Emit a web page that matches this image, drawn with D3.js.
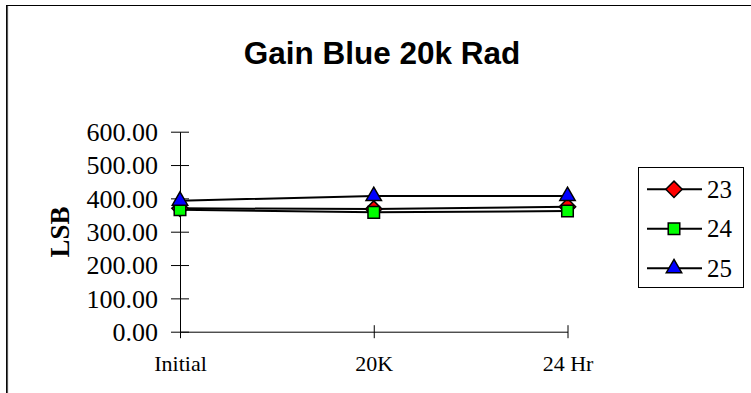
<!DOCTYPE html>
<html><head><meta charset="utf-8">
<script src="https://cdn.jsdelivr.net/npm/d3@7"></script>
<style>html,body{margin:0;padding:0;background:#fff;overflow:hidden}
.serif{font-family:'Liberation Serif','Times New Roman',serif !important;}
.sans{font-family:'Liberation Sans',Arial,sans-serif !important;}
</style>
</head><body>
<svg id="c" width="751" height="393"></svg>
<script>
const categories = ["Initial", "20K", "24 Hr"];
const seriesNames = ["23", "24", "25"];
const s23 = [370, 368, 375];
const s24 = [366, 358, 362];
const s25 = [393, 407, 407];
const yTicks = [0, 100, 200, 300, 400, 500, 600];
const title = "Gain Blue 20k Rad";
const yTitle = "LSB";

const series = [
  {name: seriesNames[0], values: s23, fill: "#FF0000", shape: d3.symbolDiamond2},
  {name: seriesNames[1], values: s24, fill: "#00FF00", shape: d3.symbolSquare2},
  {name: seriesNames[2], values: s25, fill: "#0000FF", shape: d3.symbolTriangle2}
];

const svg = d3.select("#c");
// outer chart border
svg.append("rect").attr("x", 6.5).attr("y", 5.5).attr("width", 800).attr("height", 500)
  .attr("fill", "none").attr("stroke", "#000").attr("stroke-width", 1);
svg.append("line").attr("x1", 7.5).attr("x2", 7.5).attr("y1", 6).attr("y2", 393)
  .attr("stroke", "#555").attr("stroke-width", 1.2);

svg.append("text").attr("x", 382).attr("y", 63.5)
  .attr("class", "sans")
  .attr("text-anchor", "middle")
  .attr("font-weight", "bold").attr("font-size", 31.5)
  .text(title);

const x = d3.scalePoint().domain(categories).range([180, 567.5]).padding(0);
const y = d3.scaleLinear().domain([0, 600]).range([331.7, 131.7]);

// y axis
const yAxis = svg.append("g").attr("transform", "translate(180,0)")
  .call(d3.axisLeft(y).tickValues(yTicks).tickSize(0).tickFormat(""));
yAxis.select(".domain").attr("stroke", "#000").attr("stroke-width", 1);
yAxis.selectAll(".tick").append("line").attr("x1", -9).attr("x2", 9).attr("stroke", "#000");
yAxis.selectAll(".tick").append("text")
  .attr("class", "serif")
  .attr("x", -22).attr("dy", "0.34em").attr("text-anchor", "end")
  .attr("fill", "#000").style("font-size", "26px")
  .text(d => d3.format(".2f")(d));

// x axis
const xAxis = svg.append("g").attr("transform", "translate(0,331.7)")
  .call(d3.axisBottom(x).tickSize(0).tickFormat(""));
xAxis.select(".domain").attr("stroke", "#000").attr("stroke-width", 1);
xAxis.selectAll(".tick").append("line").attr("y1", -6.5).attr("y2", 6.5).attr("stroke", "#000");
xAxis.selectAll(".tick").append("text")
  .attr("class", "serif")
  .attr("y", 39).attr("text-anchor", "middle")
  .attr("fill", "#000").style("font-size", "22px")
  .text(d => d);

// y title
svg.append("text")
  .attr("class", "serif")
  .attr("transform", "translate(69,232) rotate(-90)")
  .attr("text-anchor", "middle")
  .attr("font-weight", "bold").style("font-size", "27px")
  .text(yTitle);

const line = d3.line().x((d, i) => x(categories[i])).y(d => y(d));
const sym = d3.symbol().size(170);

series.forEach(s => {
  svg.append("path").datum(s.values).attr("d", line)
    .attr("fill", "none").attr("stroke", "#000").attr("stroke-width", 2);
});
series.forEach(s => {
  svg.selectAll(null).data(s.values).enter().append("path")
    .attr("transform", (d, i) => `translate(${x(categories[i])},${y(d)})`)
    .attr("d", sym.type(s.shape)())
    .attr("fill", s.fill).attr("stroke", "#000").attr("stroke-width", 1.5);
});

// legend
const lg = svg.append("g");
lg.append("rect").attr("x", 638.5).attr("y", 167.5).attr("width", 105).attr("height", 120)
  .attr("fill", "#fff").attr("stroke", "#000").attr("stroke-width", 1);
series.forEach((s, i) => {
  const cy = 189.3 + i * 39.5;
  lg.append("line").attr("x1", 647).attr("x2", 702).attr("y1", cy).attr("y2", cy)
    .attr("stroke", "#000").attr("stroke-width", 2);
  lg.append("path").attr("transform", `translate(674,${cy})`)
    .attr("d", sym.type(s.shape)())
    .attr("fill", s.fill).attr("stroke", "#000").attr("stroke-width", 1.5);
  lg.append("text").attr("class", "serif").attr("x", 707).attr("y", cy + 8.3)
    .style("font-size", "25px").attr("fill", "#000")
    .text(s.name);
});
</script>
</body></html>
